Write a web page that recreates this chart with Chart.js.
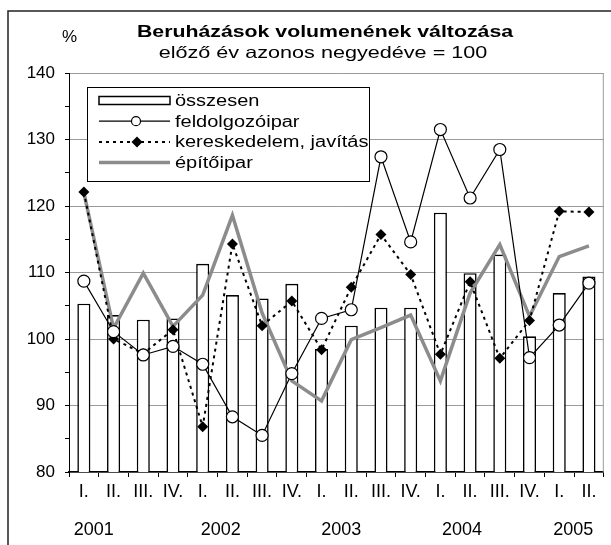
<!DOCTYPE html>
<html lang="hu">
<head>
  <meta charset="UTF-8" />
  <title>Beruházások volumenének változása</title>
  <script src="https://cdn.jsdelivr.net/npm/chart.js"></script>
  <style>
    html, body {
      margin: 0;
      padding: 0;
      background: #fff;
    }
    #wrap {
      width: 611px;
      height: 545px;
      position: relative;
    }
  </style>
</head>
<body>
  <div id="wrap"><canvas id="chart"></canvas></div>

  <script>
    // quarters 2001 I. - 2005 II.
    const quarters = ['I.', 'II.', 'III.', 'IV.', 'I.', 'II.', 'III.', 'IV.', 'I.', 'II.', 'III.', 'IV.',
                      'I.', 'II.', 'III.', 'IV.', 'I.', 'II.'];
    const years = ['2001', '2002', '2003', '2004', '2005'];

    const osszesen       = [105.3, 103.6, 102.9, 103.1, 111.3, 106.6, 106.1, 108.3, 98.5, 102.0, 104.7, 104.7, 119.0, 109.9, 112.7, 100.4, 106.9, 109.4];
    const feldolgozoipar = [108.7, 101.1, 97.6, 98.9, 96.2, 88.3, 85.5, 94.8, 103.1, 104.4, 127.4, 114.6, 131.5, 121.2, 128.5, 97.2, 102.1, 108.4];
    const kereskedelem   = [122.1, 100.0, 97.8, 101.4, 86.8, 114.3, 102.0, 105.7, 98.4, 107.8, 115.7, 109.7, 97.7, 108.6, 97.1, 102.8, 119.2, 119.1];
    const epitoipar      = [122.0, 101.6, 109.9, 101.9, 106.6, 118.6, 103.9, 93.7, 90.7, 99.9, 101.7, 103.6, 93.7, 106.9, 114.2, 103.4, 112.4, 114.0];

    const yMin = 80, yMax = 140, yStep = 5;

    const FONT = "'Liberation Sans', Arial, sans-serif";

    function wideText(ctx, text, x, y, font, align, sx) {
      ctx.save();
      ctx.font = font;
      ctx.fillStyle = '#000';
      ctx.textAlign = align;
      ctx.textBaseline = 'alphabetic';
      ctx.translate(x, y);
      ctx.scale(sx, 1);
      ctx.fillText(text, 0, 0);
      ctx.restore();
    }

    // frame, titles, year row, right border, boxed legend
    const decorPlugin = {
      id: 'decor',
      afterDraw(chart) {
        const ctx = chart.ctx;
        const area = chart.chartArea;
        const xs = chart.scales.x;

        // outer frame (only top and left are inside the picture)
        ctx.save();
        ctx.strokeStyle = '#222';
        ctx.lineWidth = 1.5;
        ctx.beginPath();
        ctx.moveTo(8, 545);
        ctx.lineTo(8, 11);
        ctx.lineTo(611, 11);
        ctx.stroke();

        // right side of the plot area
        ctx.strokeStyle = '#9a9a9a';
        ctx.lineWidth = 1;
        ctx.beginPath();
        ctx.moveTo(area.right - 0.5, area.top);
        ctx.lineTo(area.right - 0.5, area.bottom);
        ctx.stroke();
        ctx.restore();

        wideText(ctx, 'Beruházások volumenének változása', 325, 37, 'bold 16px ' + FONT, 'center', 1.33);
        wideText(ctx, 'előző év azonos negyedéve = 100', 323, 58, '16.5px ' + FONT, 'center', 1.31);
        wideText(ctx, '%', 69.5, 42, '17px ' + FONT, 'center', 1);

        // year labels under the quarter labels
        const yearPos = [0.33, 4.61, 8.66, 12.73, 16.47];
        years.forEach((yr, i) => {
          wideText(ctx, yr, xs.getPixelForValue(yearPos[i]), 535, '18px ' + FONT, 'center', 1);
        });

        // legend box
        const lx = 87, ly = 87, lw = 282, lh = 94;
        ctx.save();
        ctx.fillStyle = '#fff';
        ctx.fillRect(lx, ly, lw, lh);
        ctx.strokeStyle = '#000';
        ctx.lineWidth = 1;
        ctx.strokeRect(lx + 0.5, ly + 0.5, lw, lh);

        const sx1 = 99, sx2 = 170, smid = 136;
        const rows = [100.5, 121.2, 141.9, 162.6];
        const ds = chart.data.datasets;

        // összesen
        ctx.fillStyle = '#fff';
        ctx.strokeStyle = '#000';
        ctx.lineWidth = 1.5;
        ctx.fillRect(sx1, rows[0] - 4, sx2 - sx1, 8);
        ctx.strokeRect(sx1, rows[0] - 4, sx2 - sx1, 8);

        // feldolgozóipar
        ctx.lineWidth = 1.2;
        ctx.beginPath();
        ctx.moveTo(sx1, rows[1]);
        ctx.lineTo(sx2, rows[1]);
        ctx.stroke();
        ctx.beginPath();
        ctx.arc(smid, rows[1], 4.5, 0, Math.PI * 2);
        ctx.fill();
        ctx.stroke();

        // kereskedelem
        ctx.lineWidth = 2;
        ctx.setLineDash([3, 4]);
        ctx.beginPath();
        ctx.moveTo(sx1, rows[2]);
        ctx.lineTo(sx2, rows[2]);
        ctx.stroke();
        ctx.setLineDash([]);
        ctx.fillStyle = '#000';
        ctx.beginPath();
        ctx.moveTo(smid + 1, rows[2] - 5.5);
        ctx.lineTo(smid + 6.5, rows[2]);
        ctx.lineTo(smid + 1, rows[2] + 5.5);
        ctx.lineTo(smid - 4.5, rows[2]);
        ctx.closePath();
        ctx.fill();

        // építőipar
        ctx.strokeStyle = ds[3].borderColor;
        ctx.lineWidth = 3.5;
        ctx.beginPath();
        ctx.moveTo(sx1, rows[3]);
        ctx.lineTo(sx2, rows[3]);
        ctx.stroke();
        ctx.restore();

        ds.forEach((d, i) => {
          wideText(ctx, d.label, 175, rows[i] + 5.5, '16px ' + FONT, 'left', 1.25);
        });
      }
    };

    new Chart(document.getElementById('chart'), {
      type: 'bar',
      data: {
        labels: quarters,
        datasets: [
          {
            type: 'bar',
            label: 'összesen',
            data: osszesen,
            backgroundColor: '#fff',
            borderColor: '#000',
            borderWidth: 1.6,
            categoryPercentage: 1,
            barPercentage: 0.44,
            order: 4
          },
          {
            type: 'line',
            label: 'feldolgozóipar',
            data: feldolgozoipar,
            borderColor: '#000',
            borderWidth: 1.2,
            pointStyle: 'circle',
            pointRadius: 6,
            pointBackgroundColor: '#fff',
            pointBorderColor: '#000',
            pointBorderWidth: 1.2,
            tension: 0,
            order: 1
          },
          {
            type: 'line',
            label: 'kereskedelem, javítás',
            data: kereskedelem,
            borderColor: '#000',
            borderWidth: 2,
            borderDash: [3, 4],
            pointStyle: 'rectRot',
            pointRadius: 5.5,
            pointBackgroundColor: '#000',
            pointBorderColor: '#000',
            pointBorderWidth: 0,
            tension: 0,
            order: 2
          },
          {
            type: 'line',
            label: 'építőipar',
            data: epitoipar,
            borderColor: '#8c8c8c',
            borderWidth: 3.5,
            pointRadius: 0,
            tension: 0,
            order: 3
          }
        ]
      },
      options: {
        responsive: true,
        maintainAspectRatio: false,
        animation: false,
        layout: { padding: { top: 73, right: 3, left: 0, bottom: 0 } },
        plugins: {
          legend: { display: false },
          title: { display: false },
          tooltip: { enabled: false }
        },
        scales: {
          x: {
            offset: true,
            grid: {
              offset: true,
              drawOnChartArea: false,
              drawTicks: true,
              tickLength: 5,
              tickColor: '#000'
            },
            border: { color: '#000', width: 1.5 },
            ticks: {
              color: '#000',
              font: { family: "'Liberation Sans Narrow', 'Liberation Sans', Arial, sans-serif", size: 18 },
              padding: 4,
              maxRotation: 0,
              autoSkip: false
            },
            afterFit: s => { s.height = 73; }
          },
          y: {
            min: yMin,
            max: yMax,
            grid: {
              color: c => (c.tick && c.tick.value % 10 === 0 ? '#9a9a9a' : 'rgba(0,0,0,0)'),
              tickColor: '#000',
              tickLength: 4,
              lineWidth: 1
            },
            border: { color: '#000', width: 1 },
            ticks: {
              stepSize: yStep,
              color: '#000',
              font: { family: FONT, size: 17 },
              padding: 10,
              callback: v => (v % 10 === 0 ? v : '')
            },
            afterFit: s => { s.width = 69; }
          }
        }
      },
      plugins: [decorPlugin]
    });
  </script>
</body>
</html>
